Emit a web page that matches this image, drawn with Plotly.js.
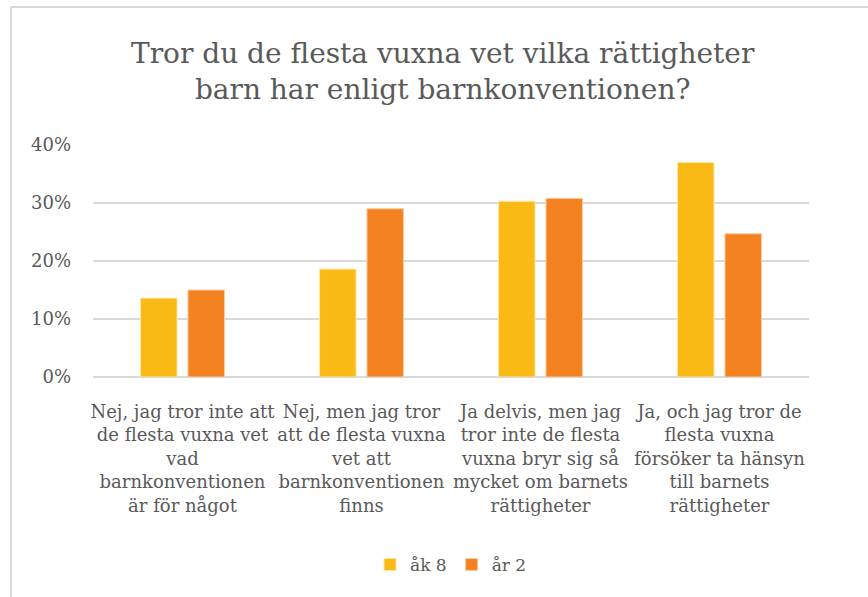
<!DOCTYPE html>
<html>
<head>
<meta charset="utf-8">
<script src="https://cdn.plot.ly/plotly-3.0.1.min.js"></script>
<style>
html,body{margin:0;padding:0;background:#fff;}
#chart{width:868px;height:597px;}
</style>
</head>
<body>
<div id="chart"></div>
<script>
const categories = [
  "Nej, jag tror inte att<br>de flesta vuxna vet<br>vad<br>barnkonventionen<br>är för något",
  "Nej, men jag tror<br>att de flesta vuxna<br>vet att<br>barnkonventionen<br>finns",
  "Ja delvis, men jag<br>tror inte de flesta<br>vuxna bryr sig så<br>mycket om barnets<br>rättigheter",
  "Ja, och jag tror de<br>flesta vuxna<br>försöker ta hänsyn<br>till barnets<br>rättigheter"
];
const seriesNames = ["åk 8", "år 2"];
const ak8 = [0.136, 0.186, 0.303, 0.370];
const ar2 = [0.150, 0.290, 0.308, 0.247];
const yTicks = [0, 0.1, 0.2, 0.3, 0.4];
const yTickText = ["0%", "10%", "20%", "30%", "40%"];

const W = 868, H = 597;
const m = {l: 93, r: 59, t: 145, b: 220};
const pw = W - m.l - m.r, ph = H - m.t - m.b;
const px = x => (x - m.l) / pw;
const py = y => (H - m.b - y) / ph;

const font = "DejaVu Serif";
const grey = "#595959";

const traces = [
  {type: "bar", name: seriesNames[0], x: categories, y: ak8,
   marker: {color: "#FBB916", line: {color: "#fde7a6", width: 1}}, hoverinfo: "none"},
  {type: "bar", name: seriesNames[1], x: categories, y: ar2,
   marker: {color: "#F58220", line: {color: "#fbcba3", width: 1}}, hoverinfo: "none"}
];

const layout = {
  width: W, height: H,
  margin: m,
  paper_bgcolor: "#fff", plot_bgcolor: "#fff",
  font: {family: font, color: grey, size: 17},
  title: {
    text: "Tror du de flesta vuxna vet vilka rättigheter<br>barn har enligt barnkonventionen?",
    font: {family: font, size: 28, color: grey},
    x: 0.51, xanchor: "center", y: 0.895, yanchor: "top"
  },
  barmode: "group",
  bargap: 0.47,
  bargroupgap: 0.23,
  xaxis: {
    type: "category",
    showgrid: false, zeroline: false, showline: false,
    ticks: "", tickfont: {family: font, size: 18, color: grey},
    tickangle: 0, automargin: false, ticklabelstandoff: 22
  },
  yaxis: {
    range: [0, 0.4], tickvals: yTicks, ticktext: yTickText,
    showgrid: true, gridcolor: "#d9d9d9", gridwidth: 1.3,
    zeroline: true, zerolinecolor: "#d9d9d9", zerolinewidth: 1.3,
    showline: false, ticks: "", ticklabelstandoff: 21,
    tickfont: {family: font, size: 18, color: grey}, automargin: false
  },
  showlegend: true,
  legend: {
    orientation: "h", x: 0.5, xanchor: "center", y: py(565), yanchor: "middle",
    font: {family: font, size: 17, color: grey},
    itemwidth: 30, traceorder: "normal", tracegroupgap: 0
  },
  shapes: [
    {type: "line", xref: "paper", yref: "paper", x0: px(11), x1: px(11), y0: py(7), y1: py(600),
     line: {color: "#d9d9d9", width: 2}},
    {type: "line", xref: "paper", yref: "paper", x0: px(11), x1: px(870), y0: py(7), y1: py(7),
     line: {color: "#d9d9d9", width: 2}}
  ]
};

Plotly.newPlot("chart", traces, layout, {displayModeBar: false, staticPlot: true});
</script>
</body>
</html>
